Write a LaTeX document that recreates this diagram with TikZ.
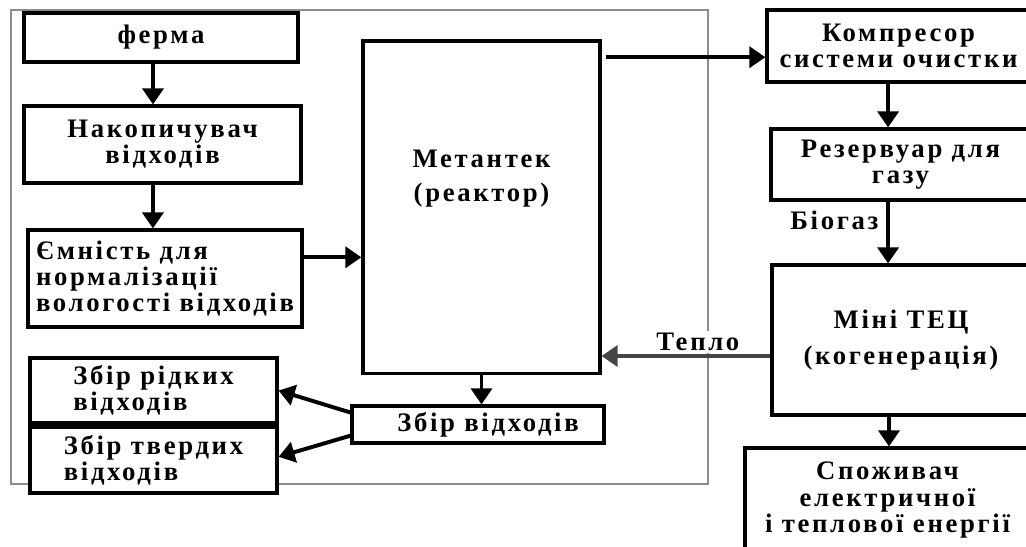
\documentclass[tikz,border=0pt]{standalone}
\usepackage{fontspec}
\setmainfont{Liberation Serif}[LetterSpace=10]
\usepackage{tikz}
\usetikzlibrary{arrows.meta, calc, positioning}
\definecolor{FrameGray}{HTML}{8C8C8C}
\definecolor{HeatGray}{HTML}{454545}
\newcommand{\boxfont}{\fontsize{19}{18.5}\selectfont\bfseries}

\begin{document}
\begin{tikzpicture}[
    x=0.025cm, y=-0.025cm,
    box/.style={draw=black, line width=2.2pt, fill=white, inner sep=1pt,
                align=center, font=\boxfont},
    lbox/.style={box, align=left},
    arr/.style={-{Triangle[length=0.4cm, width=0.52cm]}, line width=2.8pt, black},
    heat/.style={arr, HeatGray},
    lab/.style={font=\boxfont, text=black, fill=white, inner sep=1.5pt}
  ]
    \useasboundingbox (0,0) rectangle (1026,546);

    % Frame of the plant
    \draw[FrameGray, line width=1.6pt] (11,10) rectangle (708,484);

    % Column 1: input
    \node[box, minimum width=6.85cm, minimum height=1.225cm]  (ferma) at (161,37.5)  {ферма};
    \node[box, minimum width=6.925cm, minimum height=1.925cm] (nakop) at (162.5,144.5) {Накопичувач\\відходів};
    \node[lbox, minimum width=6.85cm, minimum height=2.425cm] (yemn)  at (165,278.5) {Ємність для\\нормалізації\\вологості відходів};

    % Reactor and waste collection
    \node[box, minimum width=5.925cm, minimum height=8.3cm,
          label={[font=\boxfont, align=center, yshift=0.72cm]center:Метантек\\[0.2cm](реактор)}] (metan) at (481.5,207) {};
    \node[box, minimum width=6.3cm, minimum height=0.925cm]    (zbir)  at (478,424.5) {\hspace*{0.5cm}Збір відходів};
    \node[lbox, minimum width=6.175cm, minimum height=1.625cm] (riq)   at (153.5,390.5) {Збір рідких\\відходів};
    \node[lbox, minimum width=6.175cm, minimum height=1.65cm]  (tverd) at (153.5,460) {Збір твердих\\відходів};

    % Right column: gas line
    \node[box, minimum width=6.575cm, minimum height=1.8cm]  (kompr)  at (898.5,46)  {Компресор\\системи очистки};
    \node[box, minimum width=6.475cm, minimum height=1.775cm] (rezerv) at (900.5,164.5) {Резервуар для\\газу};
    \node[box, minimum width=6.45cm, minimum height=3.75cm]  (tec)    at (901,340)   {Міні ТЕЦ\\[0.25cm](когенерація)};
    \node[box, minimum width=7.125cm, minimum height=2.6cm]  (spoz)   at (887.5,500) {Споживач\\електричної\\і теплової енергії};

    % Arrows: input chain
    \draw[arr] ([xshift=-0.2cm]ferma.south) -- ([xshift=-0.2cm]ferma.south |- nakop.north);
    \draw[arr] ([xshift=-0.24cm]nakop.south) -- ([xshift=-0.24cm]nakop.south |- yemn.north);
    \draw[arr] ([yshift=0.53cm]yemn.east) -- ([yshift=0.53cm]yemn.east -| metan.west);

    % Arrows: reactor outputs
    \draw[arr] (metan.south) -- (metan.south |- zbir.north);
    \draw[arr] ([yshift=0.3cm]zbir.west) -- (riq.east);
    \draw[arr] ([yshift=-0.28cm]zbir.west) -- ([yshift=0.08cm]tverd.east);
    \draw[arr] ([yshift=-0.28cm, xshift=0.1cm]kompr.west -| metan.east) -- ([yshift=-0.28cm]kompr.west);

    % Arrows: gas line
    \draw[arr] ([xshift=-0.26cm]kompr.south) -- ([xshift=-0.26cm]kompr.south |- rezerv.north);
    \draw[arr] ([xshift=-0.31cm]rezerv.south) -- ([xshift=-0.31cm]rezerv.south |- tec.north)
        node[lab, pos=0.3, left=4pt] (biogas) {Біогаз};
    \draw[arr] ([xshift=-0.3cm]tec.south) -- ([xshift=-0.3cm]tec.south |- spoz.north);
    \draw[heat] ([yshift=-0.4cm]tec.west) -- ([yshift=-0.4cm]tec.west -| metan.east)
        node[lab, pos=0.43, above=1pt] (teplo) {Тепло};
  \end{tikzpicture}
\end{document}
